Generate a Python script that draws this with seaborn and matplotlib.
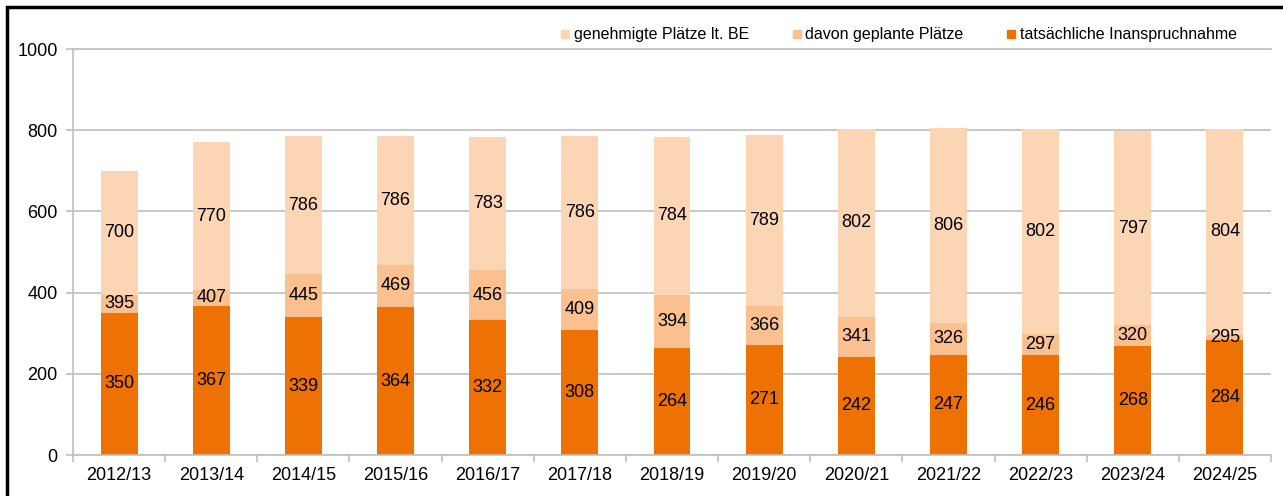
import matplotlib
matplotlib.use("Agg")
import matplotlib.pyplot as plt
import seaborn as sns
import pandas as pd
import numpy as np
from matplotlib.patches import Rectangle
from matplotlib.lines import Line2D

years = ["2012/13", "2013/14", "2014/15", "2015/16", "2016/17", "2017/18", "2018/19",
         "2019/20", "2020/21", "2021/22", "2022/23", "2023/24", "2024/25"]
genehmigt = [700, 770, 786, 786, 783, 786, 784, 789, 802, 806, 802, 797, 804]
geplant = [395, 407, 445, 469, 456, 409, 394, 366, 341, 326, 297, 320, 295]
tatsaechlich = [350, 367, 339, 364, 332, 308, 264, 271, 242, 247, 246, 268, 284]

c_gen = "#FCD5B5"
c_plan = "#FAC090"
c_act = "#EE7203"
grey = "#BFBFBF"

sns.set_theme(style="white")
plt.rcParams["font.family"] = ["Liberation Sans", "DejaVu Sans"]
plt.rcParams["text.color"] = "black"

df = pd.DataFrame({"Jahr": years, "gen": genehmigt, "plan": geplant, "act": tatsaechlich})

fig = plt.figure(figsize=(12.83, 4.96), dpi=100)
ax = fig.add_axes([73 / 1283, 1 - 455 / 496, (1271 - 73) / 1283, (455 - 49) / 496])

for col, c in [("gen", c_gen), ("plan", c_plan), ("act", c_act)]:
    sns.barplot(data=df, x="Jahr", y=col, color=c, width=0.4, order=years,
                saturation=1, ax=ax, errorbar=None, linewidth=0)

# horizontal grid behind the bars
ax.set_axisbelow(True)
ax.grid(True, axis="y", color=grey, linewidth=1.2)
ax.grid(False, axis="x")

# labels in the middle of the visible segments
for i in range(len(years)):
    ax.text(i, (genehmigt[i] + geplant[i]) / 2, str(genehmigt[i]), ha="center", va="center", fontsize=13)
    ax.text(i, (geplant[i] + tatsaechlich[i]) / 2, str(geplant[i]), ha="center", va="center", fontsize=13)
    ax.text(i, tatsaechlich[i] / 2, str(tatsaechlich[i]), ha="center", va="center", fontsize=13)

ax.set_xlim(-0.5, len(years) - 0.5)
ax.set_ylim(0, 1000)
ax.set_yticks(np.arange(0, 1001, 200))
ax.set_xlabel("")
ax.set_ylabel("")
ax.set_xticks(np.arange(-0.5, len(years), 1), minor=True)
ax.tick_params(axis="x", which="major", length=0, labelsize=13, pad=9, labelcolor="black")
ax.tick_params(axis="x", which="minor", length=5, color=grey, width=1.2, direction="out", bottom=True)
ax.tick_params(axis="y", length=5, color=grey, width=1.2, direction="out", labelsize=13, left=True,
               labelcolor="black", pad=6)
for s in ["left", "bottom", "top"]:
    ax.spines[s].set_color(grey)
    ax.spines[s].set_linewidth(1.2)
ax.spines["right"].set_visible(False)

handles = [Line2D([], [], marker="s", linestyle="", markersize=6, markerfacecolor=c, markeredgecolor=c)
           for c in (c_gen, c_plan, c_act)]
fig.legend(handles, ["genehmigte Plätze lt. BE", "davon geplante Plätze", "tatsächliche Inanspruchnahme"],
           loc="center", bbox_to_anchor=(899 / 1283, 1 - 35 / 496), ncol=3, frameon=False,
           fontsize=11.5, handletextpad=0.3, columnspacing=2.7, handlelength=0.5, borderpad=0)

# outer frame
fig.patches.append(Rectangle((7 / 1283, -0.05), 1.1, 1 - 7 / 496 + 0.05, transform=fig.transFigure,
                             fill=False, edgecolor="black", linewidth=2.5))

fig.savefig("out.png", dpi=100)
